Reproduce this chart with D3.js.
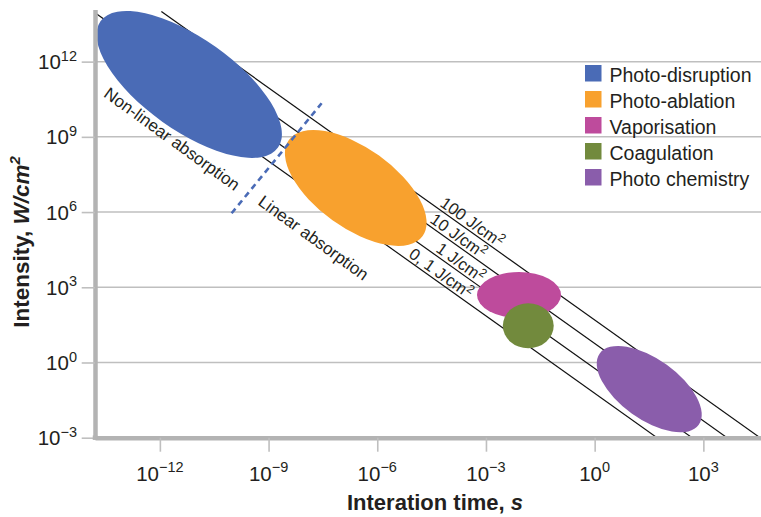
<!DOCTYPE html>
<html><head><meta charset="utf-8">
<script src="https://cdn.jsdelivr.net/npm/d3@7"></script>
<style>
body{margin:0;background:#fff}
svg{display:block}
text{font-family:"Liberation Sans",Arial,Helvetica,sans-serif}
</style>
</head><body>
<svg id="chart" width="761" height="517"></svg>
<script>
// ---------------- data ----------------
const categories = ["Photo-disruption", "Photo-ablation", "Vaporisation", "Coagulation", "Photo chemistry"];
// interaction regions (ellipses): centre, tip of the long axis, tip of the short axis  (time s, intensity W/cm2)
const centerTime        = [6.46e-12, 2.55e-7, 8.17e-3, 0.0147, 32.1];
const centerIntensity   = [1.23e11, 9.16e6, 494, 29.2, 0.0865];
const majorTipTime      = [1.82e-9, 1.79e-5, 0.118, 0.0741, 746];
const majorTipIntensity = [3.72e8, 1.11e5, 494, 29.2, 0.00326];
const minorTipTime      = [3.55e-11, 1.12e-6, 8.17e-3, 0.0147, 98.2];
const minorTipIntensity = [3.80e12, 1.79e8, 4083, 231, 0.805];

// constant-fluence lines
const fluenceLabels     = ["0, 1", "1", "10", "100"];        // J/cm2
const lineTopTime       = [1.58e-15, 1.45e-14, 1.35e-13, 1.10e-12];
const lineTopIntensity  = [1e14, 1e14, 1e14, 1e14];
const lineBottomTime    = [52.7, 488, 4508, 36700];
const lineBottomIntensity = [1e-3, 1e-3, 1e-3, 1e-3];
const fluenceLabelTime  = [6.2e-6, 3.5e-5, 2.4e-5, 4.5e-5];

// linear / non-linear absorption boundary
const boundaryTime      = [9.55e-11, 2.91e-8];
const boundaryIntensity = [8.97e5, 2.19e10];
const annotations       = ["Non-linear absorption", "Linear absorption"];
const annotationTime    = [2.67e-14, 4.77e-10];
const annotationIntensity = [4.27e10, 2.11e6];

// axes
const xTicks   = [1e-12, 1e-9, 1e-6, 1e-3, 1, 1e3];
const xTickExp = ["\u221212", "\u22129", "\u22126", "\u22123", "0", "3"];
const yTicks   = [1e12, 1e9, 1e6, 1e3, 1, 1e-3];
const yTickExp = ["12", "9", "6", "3", "0", "\u22123"];
const xDomain  = [1.62e-14, 3.9e4];
const yDomain  = [1e-3, 1.2e14];

// ---------------- style ----------------
const colors = ["#4A6BB6", "#F8A12E", "#BE4B9C", "#728A3D", "#8A5DAB"];
const gridColor = "#bfbfbf", axisColor = "#b3b3b3", textColor = "#231f20";

// ---------------- drawing ----------------
const svg = d3.select("#chart");
const x = d3.scaleLog().domain(xDomain).range([95, 761]);
const y = d3.scaleLog().domain(yDomain).range([437.7, 9.5]);
const X0 = 95, X1 = 761, Y0 = 437.7;

svg.append("defs").append("clipPath").attr("id", "plot")
  .append("rect").attr("x", X0 + 1).attr("y", 0).attr("width", X1 - X0).attr("height", Y0);

// grid
svg.append("g").selectAll("line").data(yTicks).join("line")
  .attr("x1", X0).attr("x2", X1)
  .attr("y1", d => y(d)).attr("y2", d => y(d))
  .attr("stroke", gridColor).attr("stroke-width", 1.5);

// fluence lines
const lines = svg.append("g").attr("clip-path", "url(#plot)");
const linePts = fluenceLabels.map((f, i) => ({
  x1: x(lineTopTime[i]), y1: y(lineTopIntensity[i]),
  x2: x(lineBottomTime[i]), y2: y(lineBottomIntensity[i])
}));
lines.selectAll("line").data(linePts).join("line")
  .attr("x1", d => d.x1).attr("y1", d => d.y1)
  .attr("x2", d => d.x2).attr("y2", d => d.y2)
  .attr("stroke", "#111").attr("stroke-width", 1.2);

// ellipses
const ell = categories.map((c, i) => {
  const cx = x(centerTime[i]), cy = y(centerIntensity[i]);
  const mx = x(majorTipTime[i]), my = y(majorTipIntensity[i]);
  const nx = x(minorTipTime[i]), ny = y(minorTipIntensity[i]);
  return {cx, cy, rx: Math.hypot(mx - cx, my - cy), ry: Math.hypot(nx - cx, ny - cy),
          ang: Math.atan2(my - cy, mx - cx) * 180 / Math.PI, color: colors[i]};
});
svg.append("g").selectAll("ellipse").data(ell).join("ellipse")
  .attr("cx", d => d.cx).attr("cy", d => d.cy)
  .attr("rx", d => d.rx).attr("ry", d => d.ry)
  .attr("transform", d => `rotate(${d.ang},${d.cx},${d.cy})`)
  .attr("fill", d => d.color);

// boundary dashed line
svg.append("line")
  .attr("x1", x(boundaryTime[0])).attr("y1", y(boundaryIntensity[0]))
  .attr("x2", x(boundaryTime[1])).attr("y2", y(boundaryIntensity[1]))
  .attr("stroke", colors[0]).attr("stroke-width", 2.6).attr("stroke-dasharray", "6,4.5");

const lineAngle = Math.atan2(linePts[3].y2 - linePts[3].y1, linePts[3].x2 - linePts[3].x1) * 180 / Math.PI;

// annotations
svg.append("g").selectAll("text").data(annotations).join("text")
  .attr("transform", (d, i) => `translate(${x(annotationTime[i])},${y(annotationIntensity[i])}) rotate(${lineAngle + 0.5})`)
  .attr("font-size", 17).attr("fill", textColor).text(d => d);

// fluence labels
fluenceLabels.forEach((f, i) => {
  const p = linePts[i];
  const lx = x(fluenceLabelTime[i]);
  const ly = p.y1 + (lx - p.x1) * (p.y2 - p.y1) / (p.x2 - p.x1);
  const t = svg.append("text")
    .attr("transform", `translate(${lx},${ly}) rotate(${lineAngle})`)
    .attr("y", -3).attr("font-size", 16.5).attr("fill", textColor);
  t.append("tspan").text(f + " J/cm");
  t.append("tspan").attr("font-size", 12).attr("dy", -6).text("2");
});

// axes
const xAxis = svg.append("g").attr("transform", `translate(0,${Y0})`)
  .call(d3.axisBottom(x).tickValues(xTicks).tickFormat("").tickSize(14).tickSizeOuter(0));
const yAxis = svg.append("g").attr("transform", `translate(${X0},0)`)
  .call(d3.axisLeft(y).tickValues(yTicks).tickFormat("").tickSize(13.3).tickSizeOuter(0));
[xAxis, yAxis].forEach(a => {
  a.select(".domain").attr("stroke", axisColor).attr("stroke-width", 4.5);
  a.selectAll(".tick line").attr("stroke", gridColor).attr("stroke-width", 1.6);
});
svg.append("line").attr("x1", X0 - 2.25).attr("x2", X0 + 2.25).attr("y1", Y0).attr("y2", Y0)
  .attr("stroke", axisColor).attr("stroke-width", 4.5);

// tick labels
xTicks.forEach((v, i) => {
  const t = svg.append("text").attr("x", x(v)).attr("y", 480.5)
    .attr("text-anchor", "middle").attr("font-size", 20.5).attr("fill", textColor);
  t.append("tspan").text("10");
  t.append("tspan").attr("font-size", 14.5).attr("dy", -8.5).text(xTickExp[i]);
});
yTicks.forEach((v, i) => {
  const t = svg.append("text").attr("x", 77).attr("y", y(v) + 7.6)
    .attr("text-anchor", "end").attr("font-size", 20.5).attr("fill", textColor);
  t.append("tspan").text("10");
  t.append("tspan").attr("font-size", 14.5).attr("dy", -8.5).text(yTickExp[i]);
});

// axis titles
const xt = svg.append("text").attr("x", 435).attr("y", 510).attr("text-anchor", "middle")
  .attr("font-size", 22).attr("font-weight", "bold").attr("fill", textColor);
xt.append("tspan").text("Interation time, ");
xt.append("tspan").attr("font-style", "italic").text("s");

const yt = svg.append("text").attr("transform", "translate(29,242) rotate(-90)").attr("text-anchor", "middle")
  .attr("font-size", 22.5).attr("font-weight", "bold").attr("fill", textColor);
yt.append("tspan").text("Intensity, ");
yt.append("tspan").attr("font-style", "italic").text("W/cm");
yt.append("tspan").attr("font-style", "italic").attr("font-size", 15).attr("dy", -9).text("2");

// legend
const lg = svg.append("g").attr("transform", "translate(585,65)");
const row = lg.selectAll("g").data(categories).join("g").attr("transform", (d, i) => `translate(0,${i * 26})`);
row.append("rect").attr("width", 16.5).attr("height", 16.5).attr("fill", (d, i) => colors[i]);
row.append("text").attr("x", 24.5).attr("y", 16.5).attr("font-size", 19.5).attr("fill", textColor).text(d => d);
</script>
</body></html>
